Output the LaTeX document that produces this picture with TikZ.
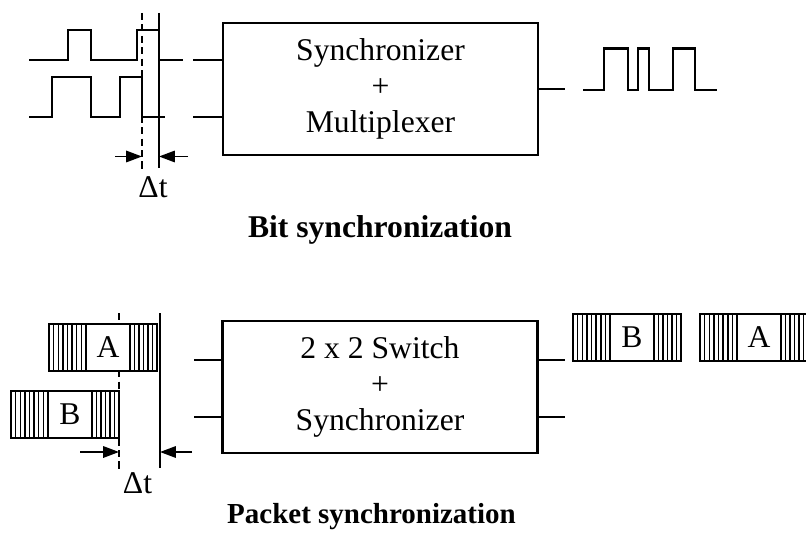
\documentclass[tikz,border=0pt]{standalone}
\usepackage{fontspec}
\setmainfont{Liberation Serif}
\usetikzlibrary{arrows.meta}
\tikzset{
  wave/.style={line width=1.5pt},
  wire/.style={line width=1.2pt},
  block/.style={draw, line width=1.2pt, minimum width=6.3cm, minimum height=2.64cm,
    align=center, font=\fontsize{18}{20.5}\selectfont},
  hatch/.style={line width=0.85pt},
  pktbox/.style={draw, fill=white, line width=1.2pt, minimum width=0.88cm,
    minimum height=0.94cm, inner sep=0pt, font=\fontsize{18}{20}\selectfont},
  marker/.style={line width=1.2pt},
  skew/.style={line width=1.2pt, dash pattern=on 4pt off 2.5pt},
  gap/.style={line width=1pt, ->},
  delta/.style={anchor=base, font=\fontsize{18}{20}\selectfont},
  title/.style={anchor=base, font=\fontsize{18}{20}\selectfont\bfseries}
}
\newcommand{\drawpacket}[4]{%
  \draw[line width=1.2pt] ({#2},{#3}) rectangle ++(2.16,0.94);
  \foreach \k in {1,...,7} \draw[hatch] ({#2+\k*0.0925},{#3}) -- ++(0,0.94);
  \foreach \k in {1,...,5} \draw[hatch] ({#2+1.62+\k*0.09},{#3}) -- ++(0,0.94);
  \node[pktbox] (#1) at ({#2+1.18},{#3+0.47}) {#4};
}
\begin{document}
\begin{tikzpicture}[>={Triangle[length=9pt,width=6.5pt]}]
\useasboundingbox (0,0) rectangle (16.12,10.68);
\draw[wave] (0.58,9.48) -- (1.36,9.48) -- (1.36,10.08) -- (1.82,10.08) -- (1.82,9.48)
  -- (2.74,9.48) -- (2.74,10.08) -- (3.18,10.08) -- (3.18,9.48) -- (3.66,9.48);
\draw[wave] (0.58,8.34) -- (1.04,8.34) -- (1.04,9.14) -- (1.82,9.14) -- (1.82,8.34)
  -- (2.40,8.34) -- (2.40,9.14) -- (2.84,9.14) -- (2.84,8.34) -- (3.30,8.34);
\coordinate (bitdash) at (2.84,10.42);
\coordinate (bitline) at (3.18,10.42);
\draw[skew] (bitdash) -- ++(0,-3.14);
\draw[marker] (bitline) -- ++(0,-3.10);
\coordinate (bitleft) at (2.30,7.55);
\coordinate (bitright) at (3.76,7.55);
\draw[gap] (bitleft) -- (bitleft -| bitdash);
\draw[gap] (bitright) -- (bitright -| bitline);
\node[delta] (bitdelta) at (3.06,6.72) {Δt};
\node[block] (mux) at (7.61,8.90) {Synchronizer\\+\\Multiplexer};
\coordinate (muxin1) at (3.86,9.48);
\coordinate (muxin2) at (3.86,8.34);
\coordinate (muxout) at (11.30,8.90);
\draw[wire] (muxin1) -- (muxin1 -| mux.west);
\draw[wire] (muxin2) -- (muxin2 -| mux.west);
\draw[wire] (mux.east) -- (muxout);
\draw[wave] (11.66,8.88) -- (12.08,8.88) -- (12.08,9.71) -- (12.56,9.71) -- (12.56,8.88)
  -- (12.76,8.88) -- (12.76,9.71) -- (12.98,9.71) -- (12.98,8.88) -- (13.46,8.88)
  -- (13.46,9.71) -- (13.90,9.71) -- (13.90,8.88) -- (14.34,8.88);
\node[title] (bittitle) at (7.60,5.92) {Bit synchronization};
\coordinate (pktdash) at (2.38,4.42);
\coordinate (pktline) at (3.20,4.42);
\draw[skew] (pktdash) -- ++(0,-3.14);
\draw[marker] (pktline) -- ++(0,-3.10);
\drawpacket{inA}{0.98}{3.26}{A}
\drawpacket{inB}{0.22}{1.92}{B}
\coordinate (pktleft) at (1.60,1.64);
\coordinate (pktright) at (3.84,1.64);
\draw[gap] (pktleft) -- (pktleft -| pktdash);
\draw[gap] (pktright) -- (pktright -| pktline);
\node[delta] (pktdelta) at (2.75,0.82) {Δt};
\node[block] (sw) at (7.60,2.94) {2 x 2 Switch\\+\\Synchronizer};
\coordinate (swin1) at (3.88,3.48);
\coordinate (swin2) at (3.88,2.34);
\coordinate (swout1) at (11.30,3.48);
\coordinate (swout2) at (11.30,2.34);
\draw[wire] (swin1) -- (swin1 -| sw.west);
\draw[wire] (swin2) -- (swin2 -| sw.west);
\draw[wire] (swout1 -| sw.east) -- (swout1);
\draw[wire] (swout2 -| sw.east) -- (swout2);
\begin{scope}
\clip (0,0) rectangle (16.12,10.68);
\drawpacket{outB}{11.46}{3.46}{B}
\drawpacket{outA}{14.00}{3.46}{A}
\end{scope}
\node[title, font=\fontsize{16.5}{19}\selectfont\bfseries] (pkttitle) at (7.43,0.22) {Packet synchronization};
\end{tikzpicture}
\end{document}
